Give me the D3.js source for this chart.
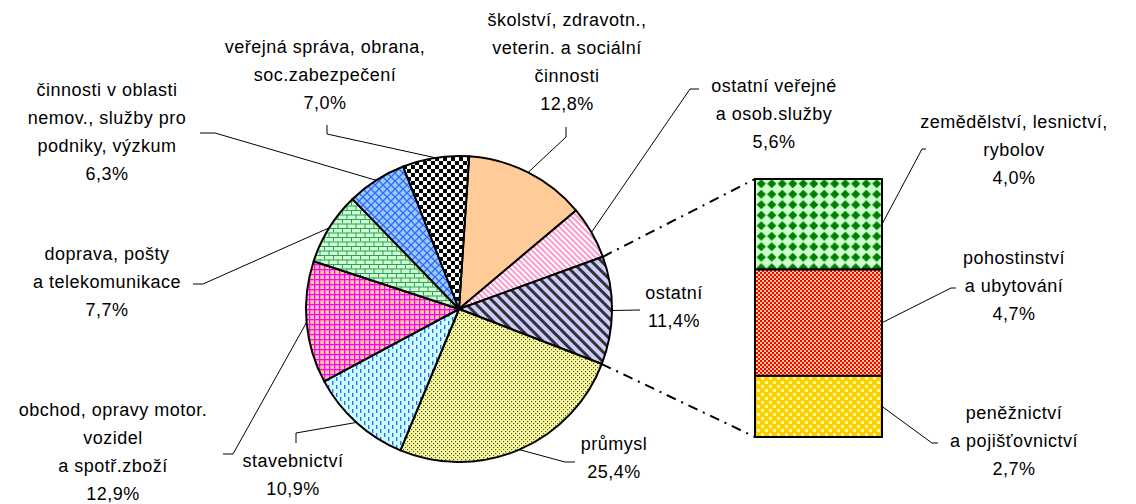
<!DOCTYPE html>
<html>
<head>
<meta charset="utf-8">
<script src="https://cdn.jsdelivr.net/npm/d3@7"></script>
<style>
  body { margin: 0; background: #fff; }
  svg { display: block; }
  text { font-family: "Liberation Sans", Arial, sans-serif; font-size: 18px; letter-spacing: 0.5px; fill: #000; }
</style>
</head>
<body>
<svg width="1136" height="504"></svg>
<script>
// pie slices, clockwise from the top
var pieNames = [
  "školství, zdravotn.,\nveterin. a sociální\nčinnosti",
  "ostatní veřejné\na osob.služby",
  "ostatní",
  "průmysl",
  "stavebnictví",
  "obchod, opravy motor.\nvozidel\na spotř.zboží",
  "doprava, pošty\na telekomunikace",
  "činnosti v oblasti\nnemov., služby pro\npodniky, výzkum",
  "veřejná správa, obrana,\nsoc.zabezpečení"
];
var pieValues = [12.8, 5.6, 11.4, 25.4, 10.9, 12.9, 7.7, 6.3, 7.0];

// the "ostatní" slice split into the bar, top to bottom
var barNames = [
  "zemědělství, lesnictví,\nrybolov",
  "pohostinství\na ubytování",
  "peněžnictví\na pojišťovnictví"
];
var barValues = [4.0, 4.7, 2.7];
var splitIndex = 2;

// label placement (text centre, first line y, leader points near the text)
var pieLabelPos = [
  {x: 567, y: 20,  leader: [[566, 127], [566, 137]]},
  {x: 774, y: 86,  leader: [[699, 89], [690, 89]]},
  {x: 674, y: 293, leader: [[640, 310]]},
  {x: 614, y: 444, leader: [[575, 462], [565, 462]]},
  {x: 293, y: 461, leader: [[296, 443], [296, 433]]},
  {x: 113, y: 410, leader: [[223, 454], [233, 454]]},
  {x: 107, y: 254, leader: [[193, 284], [203, 284]]},
  {x: 107, y: 90,  leader: [[200, 133], [215, 133]]},
  {x: 325, y: 47,  leader: [[327, 125], [327, 134]]}
];
var barLabelPos = [
  {x: 1014, y: 122, leader: [[926, 149], [922, 149]]},
  {x: 1014, y: 258, leader: [[956, 288], [951, 288]]},
  {x: 1014, y: 413, leader: [[938, 443], [932, 443]]}
];

var pieFills = ["#FFCC99", "url(#p-pink)", "url(#p-lav)", "url(#p-dots)", "url(#p-dash)",
                "url(#p-grid)", "url(#p-brick)", "url(#p-trellis)", "url(#p-check)"];
var barFills = ["url(#p-diam)", "url(#p-red)", "url(#p-gold)"];

var svg = d3.select("svg");
var defs = svg.append("defs");

function pattern(id, w, h, bg, transform) {
  var p = defs.append("pattern")
      .attr("id", id)
      .attr("patternUnits", "userSpaceOnUse")
      .attr("width", w).attr("height", h);
  if (transform) p.attr("patternTransform", transform);
  p.append("rect").attr("width", w).attr("height", h).attr("fill", bg);
  return p;
}
function box(p, x, y, w, h, c) {
  p.append("rect").attr("x", x).attr("y", y).attr("width", w).attr("height", h).attr("fill", c);
}

var p;
p = pattern("p-pink", 4, 4, "#fff", "rotate(-45)");
box(p, 0, 0, 2, 4, "#FF99CC");
p = pattern("p-lav", 7, 7, "#CCCCFF", "rotate(-45)");
box(p, 0, 0, 3, 7, "#333");
p = pattern("p-dots", 4, 4, "#FFFF99");
box(p, 0, 0, 1.2, 1.2, "#444");
box(p, 2, 2, 1.2, 1.2, "#444");
p = pattern("p-dash", 8, 8, "#CCFFFF");
box(p, 1, 0, 1.4, 4, "#3366FF");
box(p, 5, 4, 1.4, 4, "#3366FF");
p = pattern("p-grid", 5, 5, "#FFCC99");
box(p, 0, 0, 5, 1.3, "#FF00FF");
box(p, 0, 0, 1.3, 5, "#FF00FF");
p = pattern("p-brick", 9, 9, "#CCFFCC");
box(p, 0, 0, 9, 1, "#339966");
box(p, 0, 4.5, 9, 1, "#339966");
box(p, 0, 0, 1, 4.5, "#339966");
box(p, 4.5, 4.5, 1, 4.5, "#339966");
p = pattern("p-trellis", 8, 8, "#99CCFF");
p.append("path").attr("d", "M0,0L8,8M8,0L0,8").attr("stroke", "#3366FF").attr("stroke-width", 1.3);
p = pattern("p-check", 8, 8, "#fff");
box(p, 0, 0, 4, 4, "#000");
box(p, 4, 4, 4, 4, "#000");
p = pattern("p-diam", 10.5, 10.5, "#CCFFCC");
p.append("path").attr("d", "M5.25,0.6L9.9,5.25L5.25,9.9L0.6,5.25Z").attr("fill", "#008000");
p = pattern("p-red", 4, 4, "#FFCC99");
box(p, 0, 0, 2, 2, "#FF0000");
box(p, 2, 2, 2, 2, "#FF0000");
p = pattern("p-gold", 8, 8, "#FFCC00");
box(p, 1, 1, 3, 3, "#FFFF99");
box(p, 5, 5, 3, 3, "#FFFF99");

var pct = function(v) { return d3.format(".1f")(v).replace(".", ",") + "%"; };

var cx = 459, cy = 309, r = 153;
var start = 3.8 * Math.PI / 180;

var pie = d3.pie().sort(null).startAngle(start).endAngle(start + 2 * Math.PI);
var arcs = pie(pieValues);
var arc = d3.arc().innerRadius(0).outerRadius(r);

function edge(a) { return [cx + r * Math.sin(a), cy - r * Math.cos(a)]; }

var g = svg.append("g").attr("transform", "translate(" + cx + "," + cy + ")");
g.selectAll("path.slice")
  .data(arcs)
  .enter().append("path")
    .attr("class", "slice")
    .attr("d", arc)
    .attr("fill", function(d, i) { return pieFills[i]; })
    .attr("stroke", "#000")
    .attr("stroke-width", 2)
    .attr("stroke-linejoin", "round");

// bar of the split slice
var barX = d3.scaleLinear().domain([0, 1]).range([755, 882]);
var barY = d3.scaleLinear().domain([0, d3.sum(barValues)]).range([179, 437]);
var cum = d3.cumsum(barValues);
var bars = barValues.map(function(v, i) { return {v: v, y0: cum[i] - v, y1: cum[i]}; });

svg.selectAll("rect.bar")
  .data(bars)
  .enter().append("rect")
    .attr("class", "bar")
    .attr("x", barX(0))
    .attr("y", function(d) { return barY(d.y0); })
    .attr("width", barX(1) - barX(0))
    .attr("height", function(d) { return barY(d.y1) - barY(d.y0); })
    .attr("fill", function(d, i) { return barFills[i]; })
    .attr("stroke", "#000")
    .attr("stroke-width", 2);

// dash-dot connectors from the split slice to the bar
var split = arcs[splitIndex];
var conn = [[edge(split.startAngle), [barX(0), barY(0)]],
            [edge(split.endAngle), [barX(0), barY(d3.sum(barValues))]]];
svg.selectAll("line.conn")
  .data(conn)
  .enter().append("line")
    .attr("class", "conn")
    .attr("x1", function(d) { return d[0][0]; })
    .attr("y1", function(d) { return d[0][1]; })
    .attr("x2", function(d) { return d[1][0]; })
    .attr("y2", function(d) { return d[1][1]; })
    .attr("stroke", "#000")
    .attr("stroke-width", 2)
    .attr("stroke-dasharray", "10,6,2,6");

// leader lines
var line = d3.line();
var pieLeaders = arcs.map(function(d, i) {
  return pieLabelPos[i].leader.concat([edge((d.startAngle + d.endAngle) / 2)]);
});
var barLeaders = bars.map(function(d, i) {
  return barLabelPos[i].leader.concat([[barX(1), barY((d.y0 + d.y1) / 2)]]);
});
svg.selectAll("path.leader")
  .data(pieLeaders.concat(barLeaders))
  .enter().append("path")
    .attr("class", "leader")
    .attr("d", line)
    .attr("fill", "none")
    .attr("stroke", "#000")
    .attr("stroke-width", 1);

// labels
function addLabels(names, values, pos) {
  names.forEach(function(n, i) {
    var lines = n.split("\n").concat([pct(values[i])]);
    var t = svg.append("text").attr("text-anchor", "middle");
    lines.forEach(function(s, j) {
      t.append("tspan")
        .attr("x", pos[i].x)
        .attr("y", pos[i].y + j * 28)
        .attr("dy", "0.35em")
        .text(s);
    });
  });
}
addLabels(pieNames, pieValues, pieLabelPos);
addLabels(barNames, barValues, barLabelPos);
</script>
</body>
</html>
